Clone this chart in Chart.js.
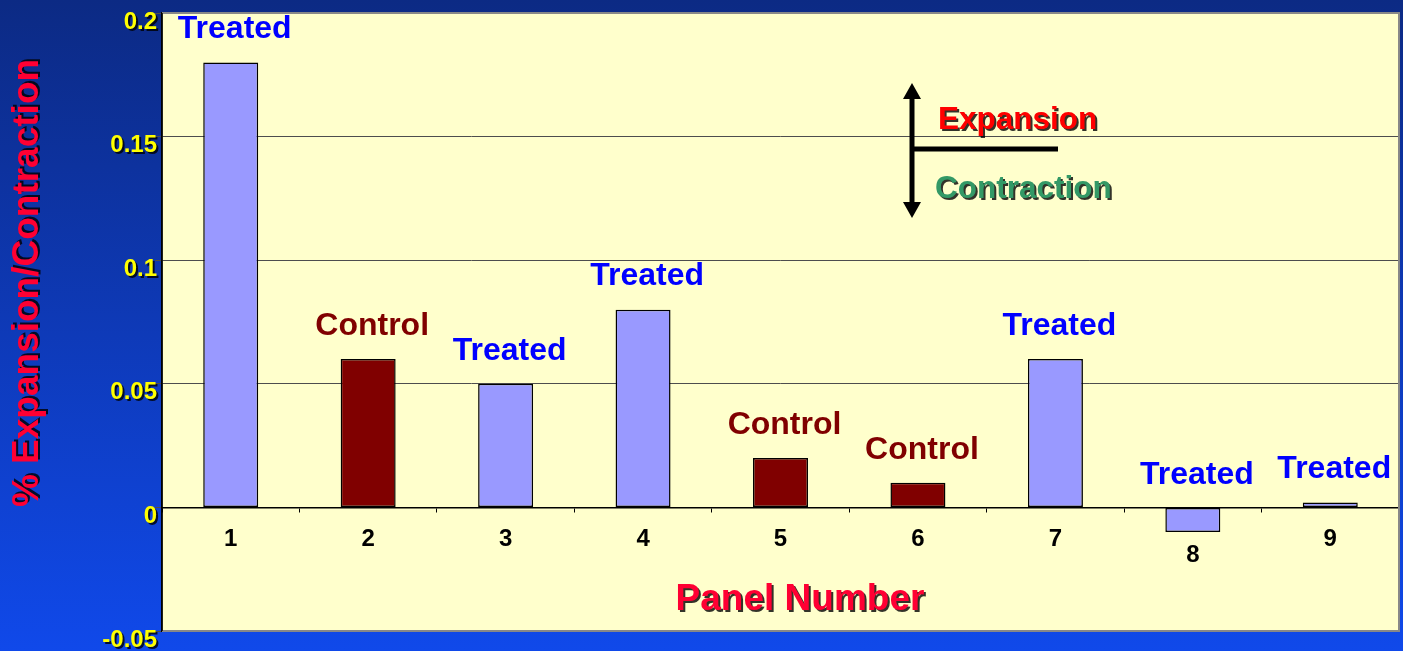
<!DOCTYPE html>
<html>
<head>
<meta charset="utf-8">
<script src="https://cdn.jsdelivr.net/npm/chart.js@4/dist/chart.umd.min.js"></script>
<style>
  html, body { margin: 0; padding: 0; background: #0d2c8a; }
  #Wrap { width: 1403px; height: 651px; }
</style>
</head>
<body>
<div id="Wrap"><canvas id="PanelChart" width="1403" height="651"></canvas></div>
<script>
const Panels = ["1", "2", "3", "4", "5", "6", "7", "8", "9"];
const Groups = ["Treated", "Control", "Treated", "Treated", "Control", "Control", "Treated", "Treated", "Treated"];
const Values = [0.18, 0.06, 0.05, 0.08, 0.02, 0.01, 0.06, -0.01, 0.002];
const YTicks = [-0.05, 0, 0.05, 0.1, 0.15, 0.2];

const FontFamily = 'Arial, "Liberation Sans", sans-serif';
const GroupBar = { Treated: "#9999FF", Control: "#800000" };
const GroupText = { Treated: "#0000FF", Control: "#800000" };

function ShadowText(ctx, text, x, y, color, offset) {
  ctx.save();
  ctx.fillStyle = "rgba(0,0,0,0.8)";
  ctx.fillText(text, x + offset, y + offset);
  ctx.fillStyle = color;
  ctx.fillText(text, x, y);
  ctx.restore();
}

const Backdrop = {
  id: "backdrop",
  beforeDraw(chart) {
    const { ctx, chartArea: A, width, height } = chart;
    ctx.save();
    const Grad = ctx.createLinearGradient(0, 0, 0, height);
    Grad.addColorStop(0, "#0c2a84");
    Grad.addColorStop(1, "#1049ea");
    ctx.fillStyle = Grad;
    ctx.fillRect(0, 0, width, height);
    ctx.fillStyle = "#FFFFCC";
    ctx.fillRect(A.left, A.top, A.right - A.left, A.bottom - A.top);
    ctx.restore();
  },
  afterDraw(chart) {
    const { ctx, chartArea: A } = chart;
    const YScale = chart.scales.y;
    ctx.save();
    // plot frame
    ctx.strokeStyle = "#888888";
    ctx.lineWidth = 2;
    ctx.beginPath();
    ctx.moveTo(A.left, A.top);
    ctx.lineTo(A.right, A.top);
    ctx.lineTo(A.right, A.bottom);
    ctx.lineTo(A.left, A.bottom);
    ctx.stroke();
    ctx.strokeStyle = "#000";
    ctx.lineWidth = 1.5;
    ctx.beginPath();
    ctx.moveTo(A.left, A.top);
    ctx.lineTo(A.left, A.bottom);
    ctx.stroke();

    // y tick labels
    ctx.font = "bold 24px " + FontFamily;
    ctx.textAlign = "right";
    ctx.textBaseline = "middle";
    YTicks.forEach(v => {
      const y = YScale.getPixelForValue(v) + 9;
      ShadowText(ctx, String(v), A.left - 5, y, "#FFFF00", 2);
    });

    // axis titles
    ctx.font = "bold 37px " + FontFamily;
    ctx.textAlign = "center";
    ctx.save();
    ctx.translate(28, 283);
    ctx.rotate(-Math.PI / 2);
    ShadowText(ctx, "% Expansion/Contraction", 0, 0, "#FF0033", 2);
    ctx.restore();
    ctx.font = "bold 37px " + FontFamily;
    ShadowText(ctx, "Panel Number", 800, 600, "#FF0033", 2);

    // expansion / contraction key
    const Ax = A.left + 750, Top = A.top + 70, Bot = A.top + 205, Mid = A.top + 136;
    ctx.strokeStyle = "#000";
    ctx.fillStyle = "#000";
    ctx.lineWidth = 5;
    ctx.beginPath();
    ctx.moveTo(Ax, Top + 12);
    ctx.lineTo(Ax, Bot - 12);
    ctx.moveTo(Ax, Mid);
    ctx.lineTo(Ax + 146, Mid);
    ctx.stroke();
    ctx.beginPath();
    ctx.moveTo(Ax, Top);
    ctx.lineTo(Ax - 9, Top + 16);
    ctx.lineTo(Ax + 9, Top + 16);
    ctx.closePath();
    ctx.moveTo(Ax, Bot);
    ctx.lineTo(Ax - 9, Bot - 16);
    ctx.lineTo(Ax + 9, Bot - 16);
    ctx.closePath();
    ctx.fill();
    ctx.font = "bold 31.5px " + FontFamily;
    ctx.textAlign = "left";
    ShadowText(ctx, "Expansion", Ax + 26, Mid - 29, "#FF0000", 2);
    ShadowText(ctx, "Contraction", Ax + 23, Mid + 40, "#339966", 2);
    ctx.restore();
  }
};

const BarText = {
  id: "barText",
  afterDatasetsDraw(chart) {
    const { ctx } = chart;
    const Zero = chart.scales.y.getPixelForValue(0);
    const Bars = chart.getDatasetMeta(0).data;
    ctx.save();
    ctx.textAlign = "center";
    ctx.textBaseline = "middle";
    Bars.forEach((Bar, i) => {
      const Top = Math.min(Bar.y, Bar.base);
      ctx.font = "bold 32px " + FontFamily;
      ctx.fillStyle = GroupText[Groups[i]];
      ctx.fillText(Groups[i], Bar.x + 4, Top - 33);
      ctx.font = "bold 24px " + FontFamily;
      ctx.fillStyle = "#000";
      const LabelY = Values[i] < 0 ? Math.max(Bar.y, Bar.base) + 23 : Zero + 32;
      ctx.fillText(Panels[i], Bar.x, LabelY);
    });
    ctx.restore();
  }
};

const Canvas = document.getElementById("PanelChart");
const Config = {
  type: "bar",
  data: {
    labels: Panels,
    datasets: [{
      data: Values,
      backgroundColor: Groups.map(g => GroupBar[g]),
      borderColor: "#000",
      borderWidth: 1.5,
      borderSkipped: false,
      categoryPercentage: 1,
      barPercentage: 0.4
    }]
  },
  options: {
    responsive: false,
    animation: false,
    layout: { padding: { left: 0, top: 13, right: 4, bottom: 20 } },
    plugins: {
      legend: { display: false },
      tooltip: { enabled: false }
    },
    scales: {
      x: {
        position: { y: 0 },
        ticks: { display: false },
        grid: { drawOnChartArea: false, drawTicks: true, tickLength: 4, color: "#000", offset: true },
        border: { color: "#000", width: 1.5 }
      },
      y: {
        min: -0.05,
        max: 0.2,
        ticks: { display: false, stepSize: 0.05 },
        grid: { color: "#4d4d4d", lineWidth: 1, tickLength: 7, drawTicks: true },
        border: { color: "#000", width: 1.5 },
        afterFit(scale) { scale.width = 162; }
      }
    }
  },
  plugins: [Backdrop, BarText]
};

const NewChart = new Chart(Canvas, Config);
</script>
</body>
</html>
